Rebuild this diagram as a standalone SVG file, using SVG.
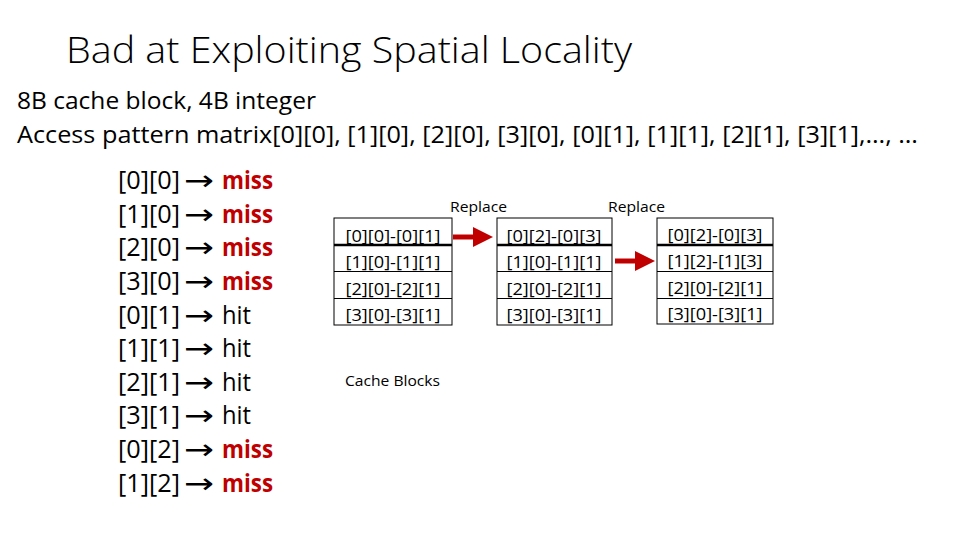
<svg xmlns="http://www.w3.org/2000/svg" width="960" height="540" viewBox="0 0 960 540">
<style>
text{font-family:"Open Sans","Liberation Sans",sans-serif;fill:#000}
.t{font-size:36px;font-weight:300}
.h{font-size:23px}
.i{font-size:25px}
.a{font-family:"DejaVu Sans",sans-serif;font-size:28px}
.m{font-size:25px;font-weight:bold;fill:#C00000}
.b{font-size:17px}
.s{font-size:14px}
.box{fill:#fff;stroke:#000;stroke-width:1}
.div{stroke:#000;stroke-width:1}
.thick{stroke:#000;stroke-width:2.5}
.arr{stroke:#C00000;stroke-width:5;fill:none}
</style>
<defs>
<marker id="ah" markerWidth="4" markerHeight="4" refX="2" refY="2" orient="auto" markerUnits="strokeWidth">
<path d="M0,0 L4,2 L0,4 z" fill="#C00000"/>
</marker>
</defs>
<text class="t" x="66" y="63" textLength="566" lengthAdjust="spacingAndGlyphs">Bad at Exploiting Spatial Locality</text>
<text class="h" x="17" y="109" textLength="299" lengthAdjust="spacingAndGlyphs">8B cache block, 4B integer</text>
<text class="h" x="17" y="143" textLength="901" lengthAdjust="spacingAndGlyphs">Access pattern matrix[0][0], [1][0], [2][0], [3][0], [0][1], [1][1], [2][1], [3][1],…, …</text>
<g id="list">
<text class="i" x="118" y="189" textLength="62" lengthAdjust="spacingAndGlyphs">[0][0]</text><text class="a" x="184" y="190" textLength="30" lengthAdjust="spacingAndGlyphs">→</text><text class="m" x="222" y="189" textLength="51" lengthAdjust="spacingAndGlyphs">miss</text>
<text class="i" x="118" y="223" textLength="62" lengthAdjust="spacingAndGlyphs">[1][0]</text><text class="a" x="184" y="224" textLength="30" lengthAdjust="spacingAndGlyphs">→</text><text class="m" x="222" y="223" textLength="51" lengthAdjust="spacingAndGlyphs">miss</text>
<text class="i" x="118" y="256" textLength="62" lengthAdjust="spacingAndGlyphs">[2][0]</text><text class="a" x="184" y="257" textLength="30" lengthAdjust="spacingAndGlyphs">→</text><text class="m" x="222" y="256" textLength="51" lengthAdjust="spacingAndGlyphs">miss</text>
<text class="i" x="118" y="290" textLength="62" lengthAdjust="spacingAndGlyphs">[3][0]</text><text class="a" x="184" y="291" textLength="30" lengthAdjust="spacingAndGlyphs">→</text><text class="m" x="222" y="290" textLength="51" lengthAdjust="spacingAndGlyphs">miss</text>
<text class="i" x="118" y="324" textLength="62" lengthAdjust="spacingAndGlyphs">[0][1]</text><text class="a" x="184" y="325" textLength="30" lengthAdjust="spacingAndGlyphs">→</text><text class="i" x="222" y="324" textLength="29" lengthAdjust="spacingAndGlyphs">hit</text>
<text class="i" x="118" y="357" textLength="62" lengthAdjust="spacingAndGlyphs">[1][1]</text><text class="a" x="184" y="358" textLength="30" lengthAdjust="spacingAndGlyphs">→</text><text class="i" x="222" y="357" textLength="29" lengthAdjust="spacingAndGlyphs">hit</text>
<text class="i" x="118" y="391" textLength="62" lengthAdjust="spacingAndGlyphs">[2][1]</text><text class="a" x="184" y="392" textLength="30" lengthAdjust="spacingAndGlyphs">→</text><text class="i" x="222" y="391" textLength="29" lengthAdjust="spacingAndGlyphs">hit</text>
<text class="i" x="118" y="424" textLength="62" lengthAdjust="spacingAndGlyphs">[3][1]</text><text class="a" x="184" y="425" textLength="30" lengthAdjust="spacingAndGlyphs">→</text><text class="i" x="222" y="424" textLength="29" lengthAdjust="spacingAndGlyphs">hit</text>
<text class="i" x="118" y="458" textLength="62" lengthAdjust="spacingAndGlyphs">[0][2]</text><text class="a" x="184" y="459" textLength="30" lengthAdjust="spacingAndGlyphs">→</text><text class="m" x="222" y="458" textLength="51" lengthAdjust="spacingAndGlyphs">miss</text>
<text class="i" x="118" y="492" textLength="62" lengthAdjust="spacingAndGlyphs">[1][2]</text><text class="a" x="184" y="493" textLength="30" lengthAdjust="spacingAndGlyphs">→</text><text class="m" x="222" y="492" textLength="51" lengthAdjust="spacingAndGlyphs">miss</text>
</g>
<g id="block1">
<rect class="box" x="334" y="218" width="118" height="107"/>
<line class="thick" x1="334" y1="245" x2="452" y2="245"/>
<line class="div" x1="334" y1="271.5" x2="452" y2="271.5"/>
<line class="div" x1="334" y1="298.5" x2="452" y2="298.5"/>
<text class="b" x="393" y="242" text-anchor="middle" textLength="95" lengthAdjust="spacingAndGlyphs">[0][0]-[0][1]</text>
<text class="b" x="393" y="268" text-anchor="middle" textLength="95" lengthAdjust="spacingAndGlyphs">[1][0]-[1][1]</text>
<text class="b" x="393" y="295" text-anchor="middle" textLength="95" lengthAdjust="spacingAndGlyphs">[2][0]-[2][1]</text>
<text class="b" x="393" y="321" text-anchor="middle" textLength="95" lengthAdjust="spacingAndGlyphs">[3][0]-[3][1]</text>
</g>
<g id="block2">
<rect class="box" x="497" y="218" width="115" height="107"/>
<line class="thick" x1="497" y1="245" x2="612" y2="245"/>
<line class="div" x1="497" y1="271.5" x2="612" y2="271.5"/>
<line class="div" x1="497" y1="298.5" x2="612" y2="298.5"/>
<text class="b" x="554" y="242" text-anchor="middle" textLength="95" lengthAdjust="spacingAndGlyphs">[0][2]-[0][3]</text>
<text class="b" x="554" y="268" text-anchor="middle" textLength="95" lengthAdjust="spacingAndGlyphs">[1][0]-[1][1]</text>
<text class="b" x="554" y="295" text-anchor="middle" textLength="95" lengthAdjust="spacingAndGlyphs">[2][0]-[2][1]</text>
<text class="b" x="554" y="321" text-anchor="middle" textLength="95" lengthAdjust="spacingAndGlyphs">[3][0]-[3][1]</text>
</g>
<g id="block3">
<rect class="box" x="657" y="218" width="116" height="106"/>
<line class="thick" x1="657" y1="245" x2="773" y2="245"/>
<line class="div" x1="657" y1="271.5" x2="773" y2="271.5"/>
<line class="div" x1="657" y1="298.5" x2="773" y2="298.5"/>
<text class="b" x="715" y="241" text-anchor="middle" textLength="95" lengthAdjust="spacingAndGlyphs">[0][2]-[0][3]</text>
<text class="b" x="715" y="267" text-anchor="middle" textLength="95" lengthAdjust="spacingAndGlyphs">[1][2]-[1][3]</text>
<text class="b" x="715" y="294" text-anchor="middle" textLength="95" lengthAdjust="spacingAndGlyphs">[2][0]-[2][1]</text>
<text class="b" x="715" y="320" text-anchor="middle" textLength="95" lengthAdjust="spacingAndGlyphs">[3][0]-[3][1]</text>
</g>
<g id="labels">
<text class="s" x="450" y="212" textLength="57" lengthAdjust="spacingAndGlyphs">Replace</text>
<text class="s" x="608" y="212" textLength="57" lengthAdjust="spacingAndGlyphs">Replace</text>
<text class="s" x="345" y="386" textLength="95" lengthAdjust="spacingAndGlyphs">Cache Blocks</text>
</g>
<g id="connectors">
<line class="arr" x1="453" y1="237" x2="483" y2="237" marker-end="url(#ah)"/>
<line class="arr" x1="615" y1="261" x2="645" y2="261" marker-end="url(#ah)"/>
</g>
</svg>
